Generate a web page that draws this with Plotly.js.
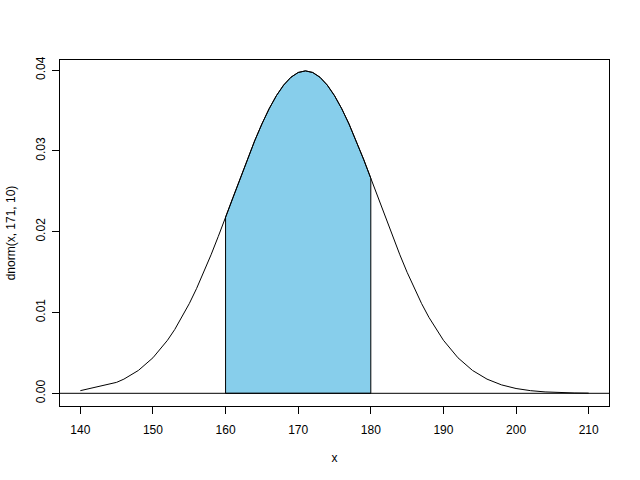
<!DOCTYPE html>
<html>
<head>
<meta charset="utf-8">
<script src="https://cdn.plot.ly/plotly-3.0.1.min.js"></script>
<style>
html, body { margin: 0; padding: 0; background: #ffffff; }
#chart { width: 640px; height: 480px; }
</style>
</head>
<body>
<div id="chart"></div>
<script>
// Curve points: x and density dnorm(x, 171, 10)
const curveX = [140, 145, 146, 148, 150, 152, 153, 154, 155, 156, 157, 158, 159, 160, 161, 162,
                163, 164, 165, 166, 167, 168, 169, 170, 171, 172, 173, 174, 175, 176, 177, 178,
                179, 180, 181, 182, 183, 184, 185, 186, 187, 188, 189, 190, 192, 194, 196, 198,
                200, 202, 204, 206, 208, 210];
const curveY = [0.000327, 0.001358, 0.001753, 0.002833, 0.004398, 0.006562, 0.007895, 0.009405,
                0.011092, 0.012952, 0.014973, 0.017137, 0.019419, 0.021785, 0.024197, 0.026609,
                0.028969, 0.031225, 0.033322, 0.035207, 0.036827, 0.038139, 0.039104, 0.039695,
                0.039894, 0.039695, 0.039104, 0.038139, 0.036827, 0.035207, 0.033322, 0.031225,
                0.028969, 0.026609, 0.024197, 0.021785, 0.019419, 0.017137, 0.014973, 0.012952,
                0.011092, 0.009405, 0.007895, 0.006562, 0.004398, 0.002833, 0.001753, 0.001042,
                0.000595, 0.000327, 0.000172, 0.000087, 0.000043, 0.000020];
// Shaded interval
const shadeFrom = 160;
const shadeTo = 180;
// Tick labels
const xTicks = [140, 150, 160, 170, 180, 190, 200, 210];
const yTicks = [0, 0.01, 0.02, 0.03, 0.04];
const yTickText = ["0.00", "0.01", "0.02", "0.03", "0.04"];

// Build polygon from the curve points
const polyX = [shadeFrom];
const polyY = [0];
curveX.forEach((x, i) => {
  if (x >= shadeFrom && x <= shadeTo) { polyX.push(x); polyY.push(curveY[i]); }
});
polyX.push(shadeTo); polyY.push(0);
polyX.push(shadeFrom); polyY.push(0);

const traces = [
  {
    x: polyX, y: polyY, type: 'scatter', mode: 'lines',
    fill: 'toself', fillcolor: '#87CEEB',
    line: { color: '#000000', width: 1 },
    hoverinfo: 'skip', showlegend: false
  },
  {
    x: curveX, y: curveY, type: 'scatter', mode: 'lines',
    line: { color: '#000000', width: 1 },
    showlegend: false
  }
];

const font = { family: 'Liberation Sans, Arial, sans-serif', size: 12, color: '#000000' };

const layout = {
  width: 640, height: 480,
  paper_bgcolor: '#ffffff', plot_bgcolor: '#ffffff',
  margin: { l: 60, r: 31, t: 60, b: 74 },
  font: font,
  showlegend: false,
  xaxis: {
    range: [137.2, 212.8],
    tickmode: 'array', tickvals: xTicks, ticktext: xTicks.map(String),
    ticks: 'outside', ticklen: 7, tickwidth: 1, tickcolor: '#000000',
    ticklabelstandoff: 6,
    showline: true, linecolor: '#000000', linewidth: 1, mirror: true,
    showgrid: false, zeroline: false,
    tickfont: font,
    title: { text: 'x', font: font, standoff: 17 }
  },
  yaxis: {
    range: [-0.00157, 0.04124],
    tickmode: 'array', tickvals: yTicks, ticktext: yTickText,
    tickangle: -90,
    ticks: 'outside', ticklen: 7, tickwidth: 1, tickcolor: '#000000',
    ticklabelstandoff: 2,
    showline: true, linecolor: '#000000', linewidth: 1, mirror: true,
    showgrid: false, zeroline: false,
    tickfont: font,
    title: { text: 'dnorm(x, 171, 10)', font: font, standoff: 16 }
  },
  shapes: [
    { type: 'line', xref: 'paper', x0: 0, x1: 1, yref: 'y', y0: 0, y1: 0,
      line: { color: '#000000', width: 1 } }
  ]
};

Plotly.newPlot('chart', traces, layout, { staticPlot: true, displayModeBar: false });
</script>
</body>
</html>
